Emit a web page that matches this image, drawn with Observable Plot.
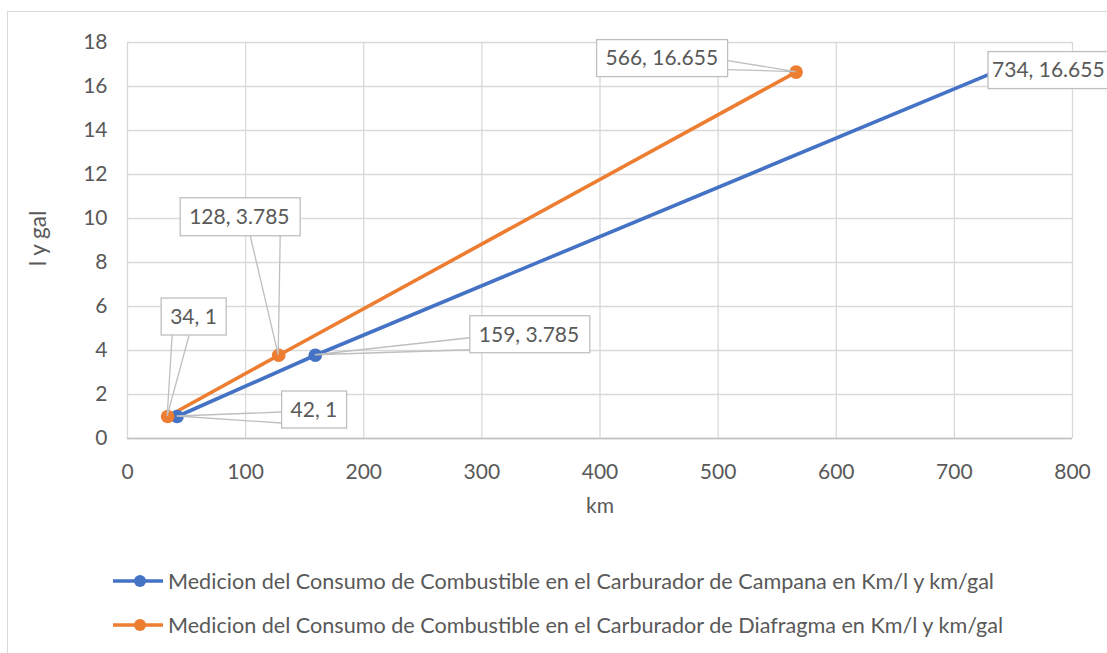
<!DOCTYPE html>
<html>
<head>
<meta charset="utf-8">
<script src="https://cdn.jsdelivr.net/npm/d3@7"></script>
<script src="https://cdn.jsdelivr.net/npm/@observablehq/plot@0.6"></script>
<style>
  html, body { margin: 0; padding: 0; background: #fff; }
  #wrap { position: relative; width: 1107px; height: 653px; overflow: hidden; font-family: Lato, "Open Sans", sans-serif; color: #595959; }
  #frame { position: absolute; left: 7px; top: 11px; width: 1200px; height: 700px; border-left: 1.5px solid #d9d9d9; border-top: 1.5px solid #d9d9d9; }
  #chart { position: absolute; left: 0; top: 0; }
  .leg { position: absolute; left: 113px; height: 24px; display: flex; align-items: center; font-size: 21.6px; white-space: nowrap; }
  .leg svg { margin-right: 5px; }
</style>
</head>
<body>
<div id="wrap">
  <div id="frame"></div>
  <div id="chart"></div>
  <div class="leg" id="leg0" style="top:569px"></div>
  <div class="leg" id="leg1" style="top:613px"></div>
</div>
<script>
// ---- data ----
const seriesNames = [
  "Medicion del Consumo de Combustible en el Carburador de Campana en Km/l y km/gal",
  "Medicion del Consumo de Combustible en el Carburador de Diafragma en Km/l y km/gal"
];
const seriesColors = ["#4472c4", "#ed7d31"];
const campanaKm = [42, 159, 734];
const campanaVol = [1, 3.785, 16.655];
const diafragmaKm = [34, 128, 566];
const diafragmaVol = [1, 3.785, 16.655];
const xTicks = [0, 100, 200, 300, 400, 500, 600, 700, 800];
const yTicks = [0, 2, 4, 6, 8, 10, 12, 14, 16, 18];
const xTitle = "km";
const yTitle = "l y gal";

const rows = [];
campanaKm.forEach((k, i) => rows.push({s: seriesNames[0], km: k, v: campanaVol[i]}));
diafragmaKm.forEach((k, i) => rows.push({s: seriesNames[1], km: k, v: diafragmaVol[i]}));

// label callouts: box offset [left, top, width, height] relative to the point (px), wedge base relative to box, text padding
const callouts = [
  {s: 1, i: 2, box: [-199, -32, 131, 37], wedge: [[131, 21], [131, 30]], pad: 9},
  {s: 0, i: 2, box: [-6, -20, 131, 37], wedge: null, pad: 4},
  {s: 1, i: 1, box: [-98, -157, 120, 38], wedge: [[70, 38], [100, 38]], pad: 9},
  {s: 0, i: 1, box: [155, -39, 120, 37], wedge: [[0, 22], [0, 34]], pad: 9},
  {s: 1, i: 0, box: [-6, -118, 65, 37], wedge: [[11, 37], [28, 37]], pad: 9},
  {s: 0, i: 0, box: [105, -25, 65, 37], wedge: [[0, 21], [0, 32]], pad: 9}
];

const FS = 21;
const W = 1107, H = 540;
const plot = Plot.plot({
  width: W, height: H,
  marginLeft: 127, marginRight: 35, marginTop: 42, marginBottom: 102,
  x: {domain: [0, 800]},
  y: {domain: [0, 18]},
  color: {domain: seriesNames, range: seriesColors},
  style: {fontFamily: "Lato, 'Open Sans', sans-serif", fontSize: FS + "px", color: "#595959", background: "transparent", overflow: "visible"},
  marks: [
    Plot.gridX(xTicks, {stroke: "#d9d9d9", strokeOpacity: 1, strokeWidth: 1.3}),
    Plot.gridY(yTicks, {stroke: "#d9d9d9", strokeOpacity: 1, strokeWidth: 1.3}),
    Plot.ruleY([0], {stroke: "#bfbfbf", strokeWidth: 1.3}),
    Plot.axisX(xTicks, {tickSize: 0, tickPadding: 26, label: null, fill: "#595959", fontSize: FS}),
    Plot.axisY(yTicks, {tickSize: 0, tickPadding: 20, label: null, fill: "#595959", fontSize: FS}),
    Plot.text([xTitle], {frameAnchor: "bottom", dy: 74, fill: "#595959", fontSize: FS}),
    Plot.text([yTitle], {frameAnchor: "left", dx: -89, dy: -2, rotate: -90, textAnchor: "middle", fill: "#595959", fontSize: 22.5}),
    Plot.line(rows, {x: "km", y: "v", z: "s", stroke: "s", strokeWidth: 3.6}),
    Plot.dot(rows, {x: "km", y: "v", fill: "s", r: 6.8})
  ]
});
document.getElementById("chart").appendChild(plot);

// callouts via Plot scales
const sx = plot.scale("x"), sy = plot.scale("y");
const svg = d3.select(plot);
const g = svg.append("g").attr("text-anchor", "start");
const data = [[campanaKm, campanaVol], [diafragmaKm, diafragmaVol]];
callouts.forEach(c => {
  const px = sx.apply(data[c.s][0][c.i]);
  const py = sy.apply(data[c.s][1][c.i]);
  const [bx, by, bw, bh] = c.box;
  const x0 = px + bx, y0 = py + by;
  if (c.wedge) {
    g.append("polyline")
      .attr("points", [[x0 + c.wedge[0][0], y0 + c.wedge[0][1]], [px, py], [x0 + c.wedge[1][0], y0 + c.wedge[1][1]]].map(p => p.join(",")).join(" "))
      .attr("fill", "none").attr("stroke", "#bfbfbf").attr("stroke-width", 1.3);
  }
  g.append("rect").attr("x", x0).attr("y", y0).attr("width", bw).attr("height", bh)
    .attr("fill", "#fff").attr("stroke", "#bfbfbf").attr("stroke-width", 1.3);
  g.append("text").attr("x", x0 + c.pad).attr("y", y0 + bh / 2).attr("dy", "0.35em")
    .attr("text-anchor", "start")
    .attr("fill", "#595959").attr("font-size", FS)
    .text(`${data[c.s][0][c.i]}, ${data[c.s][1][c.i]}`);
});

// legend
seriesNames.forEach((n, i) => {
  const el = document.getElementById("leg" + i);
  el.innerHTML = `<svg width="50" height="14"><line x1="0" x2="50" y1="7" y2="7" stroke="${seriesColors[i]}" stroke-width="3.5"/><circle cx="27" cy="7" r="6" fill="${seriesColors[i]}"/></svg><span></span>`;
  el.querySelector("span").textContent = n;
});
</script>
</body>
</html>
